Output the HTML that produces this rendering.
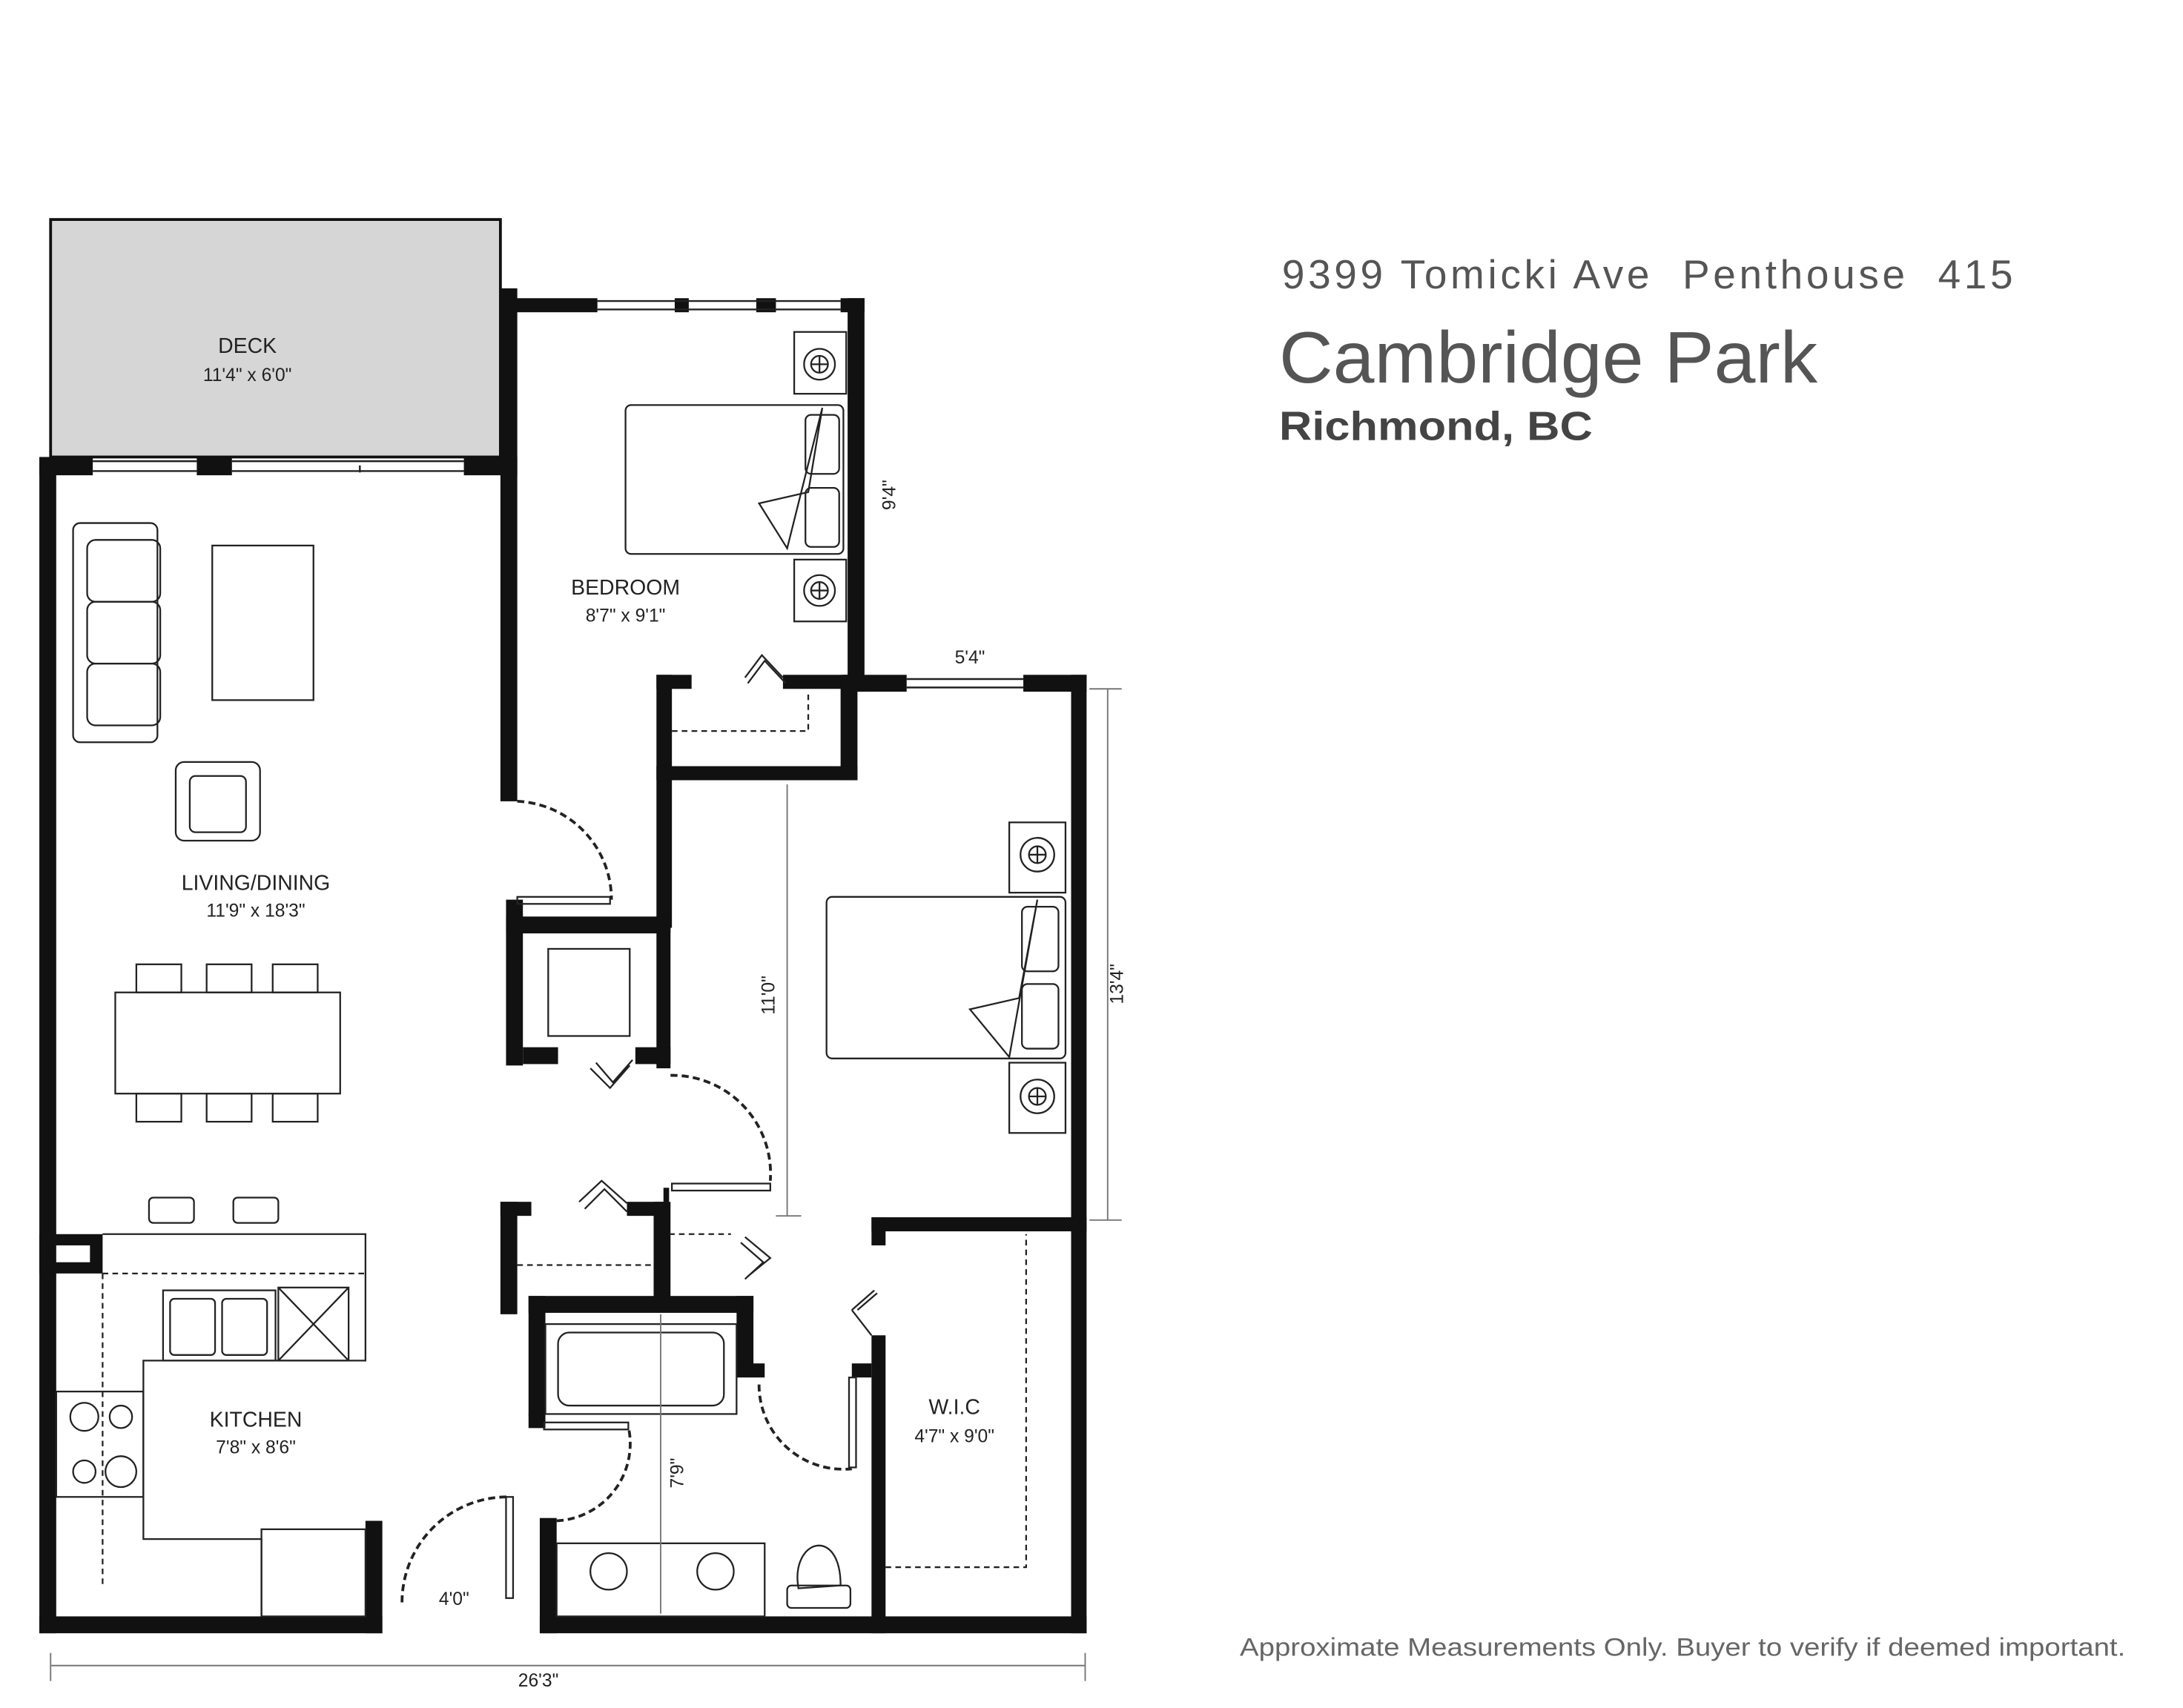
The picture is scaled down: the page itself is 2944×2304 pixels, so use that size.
<!DOCTYPE html>
<html><head><meta charset="utf-8"><style>
html,body{margin:0;padding:0;background:#fff}
svg{display:block}
text{font-family:"Liberation Sans",sans-serif}
</style></head><body>
<svg width="2944" height="2304" viewBox="0 0 1553 1215" xmlns="http://www.w3.org/2000/svg">
<rect width="1553" height="1215" fill="#fff"/>
<!-- deck -->
<rect x="36" y="156" width="320" height="169" fill="#d6d6d6" stroke="#111" stroke-width="2"/>
<text x="176" y="251" font-size="15" text-anchor="middle" fill="#222">DECK</text>
<text x="176" y="271" font-size="13" text-anchor="middle" fill="#222">11'4" x 6'0"</text>

<g fill="#111">
<rect x="28" y="325" width="38" height="13"/>
<rect x="140" y="325" width="25" height="13"/>
<rect x="330" y="325" width="38" height="13"/>
<rect x="28" y="325" width="12" height="837"/>
<rect x="356" y="205" width="12" height="365"/>
<rect x="356" y="212" width="69" height="10"/>
<rect x="480" y="212" width="10" height="10"/>
<rect x="538" y="212" width="14" height="10"/>
<rect x="598" y="212" width="17" height="10"/>
<rect x="603" y="212" width="12" height="280"/>
<rect x="600" y="480" width="45" height="12"/>
<rect x="728" y="480" width="45" height="12"/>
<rect x="762" y="480" width="11" height="682"/>
<rect x="28" y="1150" width="244" height="12"/>
<rect x="260" y="1082" width="12" height="80"/>
<rect x="384" y="1150" width="389" height="12"/>
<rect x="384" y="1080" width="12" height="82"/>
<rect x="467" y="480" width="25" height="10"/>
<rect x="557" y="480" width="53" height="10"/>
<rect x="467" y="480" width="11" height="180"/>
<rect x="598" y="480" width="12" height="75"/>
<rect x="467" y="545" width="143" height="10"/>
<rect x="360" y="640" width="12" height="118"/>
<rect x="360" y="652" width="117" height="12"/>
<rect x="467" y="652" width="10" height="108"/>
<rect x="372" y="745" width="25" height="12"/>
<rect x="452" y="745" width="25" height="12"/>
<rect x="356" y="855" width="22" height="10"/>
<rect x="356" y="855" width="12" height="80"/>
<rect x="446" y="855" width="30" height="10"/>
<rect x="465" y="855" width="12" height="70"/>
<rect x="472" y="845" width="4" height="10"/>
<rect x="376" y="922" width="160" height="12"/>
<rect x="376" y="922" width="12" height="85"/>
<rect x="524" y="922" width="12" height="50"/>
<rect x="524" y="970" width="20" height="10"/>
<rect x="376" y="1006" width="12" height="10"/>
<rect x="620" y="866" width="153" height="10"/>
<rect x="620" y="866" width="10" height="20"/>
<rect x="620" y="950" width="10" height="212"/>
<rect x="606" y="970" width="14" height="10"/>
<rect x="28" y="878" width="45" height="28"/>
</g>
<rect x="40" y="886" width="24" height="12" fill="#fff"/>

<g stroke="#222" stroke-width="1.3" fill="none">
<line x1="66" y1="328" x2="140" y2="328"/><line x1="66" y1="335" x2="140" y2="335"/>
<line x1="165" y1="328" x2="330" y2="328"/><line x1="165" y1="335" x2="330" y2="335"/>
<line x1="256" y1="331" x2="256" y2="336"/>
<line x1="425" y1="214" x2="598" y2="214"/><line x1="425" y1="220" x2="598" y2="220"/>
<line x1="645" y1="483" x2="728" y2="483"/><line x1="645" y1="489" x2="728" y2="489"/>
</g>

<g stroke="#222" stroke-width="1.2" fill="none">
<rect x="52" y="372" width="60" height="156" rx="5"/>
<rect x="62" y="384" width="52" height="44" rx="6"/>
<rect x="62" y="428" width="52" height="44" rx="6"/>
<rect x="62" y="472" width="52" height="44" rx="6"/>
<rect x="151" y="388" width="72" height="110"/>
<rect x="125" y="542" width="60" height="56" rx="6"/>
<rect x="135" y="552" width="40" height="40" rx="4"/>
<rect x="82" y="706" width="160" height="72"/>
<rect x="97" y="686" width="32" height="20"/><rect x="147" y="686" width="32" height="20"/><rect x="194" y="686" width="32" height="20"/>
<rect x="97" y="778" width="32" height="20"/><rect x="147" y="778" width="32" height="20"/><rect x="194" y="778" width="32" height="20"/>
<rect x="106" y="852" width="32" height="18" rx="3"/><rect x="166" y="852" width="32" height="18" rx="3"/>
<path d="M73 878 H260 V968 H102 V1095 H186 V1150"/>
<rect x="186" y="1088" width="74" height="62"/>
<rect x="116" y="918" width="80" height="50"/>
<rect x="121" y="924" width="32" height="40" rx="3"/><rect x="158" y="924" width="32" height="40" rx="3"/>
<rect x="198" y="916" width="50" height="52"/>
<line x1="198" y1="916" x2="248" y2="968"/><line x1="248" y1="916" x2="198" y2="968"/>
<rect x="40" y="990" width="62" height="75"/>
<circle cx="60" cy="1008" r="10"/><circle cx="86" cy="1008" r="8"/>
<circle cx="60" cy="1047" r="8"/><circle cx="86" cy="1047" r="11"/>
<rect x="445" y="288" width="155" height="106" rx="4"/>
<rect x="573" y="295" width="24" height="42" rx="4"/><rect x="573" y="347" width="24" height="42" rx="4"/>
<path d="M540 358 L575 350 L585 290 L560 390 Z"/>
<rect x="565" y="236" width="37" height="44"/><circle cx="583" cy="259" r="11"/><circle cx="583" cy="259" r="6"/>
<path d="M583 253 V265 M577 259 H589"/>
<rect x="565" y="398" width="37" height="44"/><circle cx="583" cy="420" r="11"/><circle cx="583" cy="420" r="6"/>
<path d="M583 414 V426 M577 420 H589"/>
<rect x="588" y="638" width="170" height="115" rx="4"/>
<rect x="727" y="645" width="26" height="46" rx="4"/><rect x="727" y="700" width="26" height="46" rx="4"/>
<path d="M690 718 L725 710 L738 640 L718 752 Z"/>
<rect x="718" y="585" width="40" height="50"/><circle cx="738" cy="608" r="12"/><circle cx="738" cy="608" r="6"/>
<path d="M738 602 V614 M732 608 H744"/>
<rect x="718" y="756" width="40" height="50"/><circle cx="738" cy="780" r="12"/><circle cx="738" cy="780" r="6"/>
<path d="M738 774 V786 M732 780 H744"/>
<rect x="390" y="675" width="58" height="62"/>
<rect x="388" y="942" width="136" height="64"/>
<rect x="397" y="948" width="118" height="52" rx="8"/>
<rect x="396" y="1098" width="148" height="52"/>
<circle cx="433" cy="1118" r="13"/><circle cx="509" cy="1118" r="13"/>
<path d="M568 1130 C562 1095 598 1085 598 1128 Z"/>
<rect x="560" y="1128" width="45" height="16" rx="3"/>
<g stroke-dasharray="4 3">
<path d="M478 520 H575 V492"/>
<path d="M630 1115 H730 V878"/>
<path d="M73 906 H260"/><path d="M73 906 V1128"/>
<path d="M368 900 H465"/><path d="M476 878 H520"/>
</g>
<g stroke-dasharray="5 3" stroke-width="2">
<path d="M368 570 A70 70 0 0 1 435 640"/>
<path d="M477 765 A70 70 0 0 1 548 840"/>
<path d="M286 1140 A75 75 0 0 1 362 1065"/>
<path d="M396 1082 A55 55 0 0 0 447 1015"/>
<path d="M540 985 A60 60 0 0 0 606 1045"/>
</g>
<rect x="368" y="638" width="66" height="5"/>
<rect x="478" y="842" width="70" height="5"/>
<rect x="360" y="1065" width="5" height="72"/>
<rect x="387" y="1012" width="60" height="5"/>
<rect x="604" y="980" width="5" height="64"/>
<path d="M530 482 L542 466 L557 482 M532 486 L544 470 L559 486"/>
<path d="M420 760 L434 774 L448 758 M424 756 L436 770 L450 754"/>
<path d="M412 855 L428 840 L446 856 M416 860 L430 846 L446 862"/>
<path d="M530 880 L548 895 L532 908 M527 884 L543 898 L530 910"/>
<path d="M606 932 L622 918 M606 932 L620 950 M610 932 L624 920"/>
</g>
<g stroke="#777" stroke-width="1" fill="none">
<line x1="560" y1="558" x2="560" y2="865"/><line x1="552" y1="865" x2="570" y2="865"/>
<line x1="788" y1="490" x2="788" y2="868"/><line x1="775" y1="490" x2="798" y2="490"/><line x1="775" y1="868" x2="798" y2="868"/>
<line x1="470" y1="935" x2="470" y2="1148"/>
<line x1="36" y1="1185" x2="772" y2="1185"/><line x1="36" y1="1176" x2="36" y2="1196"/><line x1="772" y1="1176" x2="772" y2="1196"/>
</g>
<g fill="#222" text-anchor="middle">
<text x="445" y="423" font-size="15">BEDROOM</text>
<text x="445" y="442" font-size="13">8'7" x 9'1"</text>
<text x="182" y="633" font-size="15">LIVING/DINING</text>
<text x="182" y="652" font-size="13">11'9" x 18'3"</text>
<text x="182" y="1015" font-size="15">KITCHEN</text>
<text x="182" y="1034" font-size="13">7'8" x 8'6"</text>
<text x="679" y="1006" font-size="15">W.I.C</text>
<text x="679" y="1026" font-size="13">4'7" x 9'0"</text>
<text x="690" y="472" font-size="13">5'4"</text>
<text x="323" y="1142" font-size="13">4'0"</text>
<text x="383" y="1200" font-size="13">26'3"</text>
<text transform="translate(637,352) rotate(-90)" font-size="13">9'4"</text>
<text transform="translate(551,708) rotate(-90)" font-size="13">11'0"</text>
<text transform="translate(799,700) rotate(-90)" font-size="13">13'4"</text>
<text transform="translate(486,1048) rotate(-90)" font-size="13">7'9"</text>
</g>
<text x="912" y="205" font-size="29" fill="#555" textLength="520" lengthAdjust="spacing" xml:space="preserve">9399 Tomicki Ave  Penthouse  415</text>
<text x="910" y="272" font-size="52" fill="#555" textLength="383" lengthAdjust="spacingAndGlyphs">Cambridge Park</text>
<text x="910" y="313" font-size="29" font-weight="bold" fill="#444" textLength="223" lengthAdjust="spacingAndGlyphs">Richmond, BC</text>
<text x="882" y="1178" font-size="18" fill="#666" textLength="630" lengthAdjust="spacingAndGlyphs">Approximate Measurements Only. Buyer to verify if deemed important.</text>
</svg>
</body></html>
